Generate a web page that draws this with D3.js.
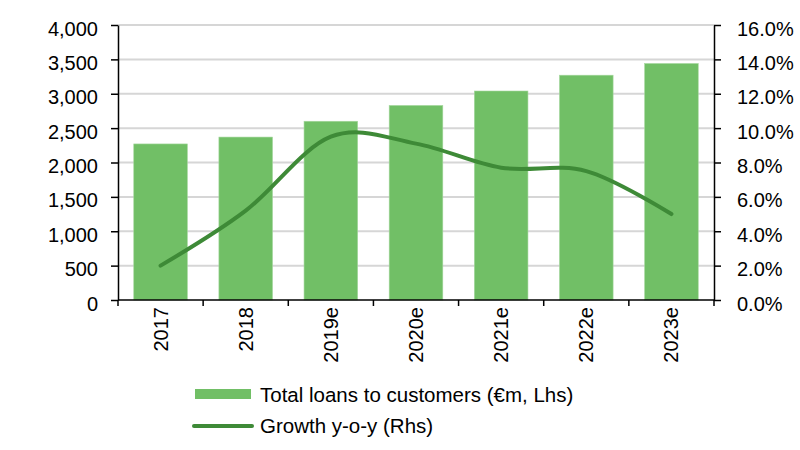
<!DOCTYPE html>
<html>
<head>
<meta charset="utf-8">
<script src="https://cdn.jsdelivr.net/npm/d3@7"></script>
<style>
  body { margin: 0; background: #fff; }
  text { font-family: "Liberation Sans", Arial, sans-serif; fill: #000; }
</style>
</head>
<body>
<div id="chart"></div>
<script>
// data
var years = ["2017", "2018", "2019e", "2020e", "2021e", "2022e", "2023e"];
var loans = [2270, 2370, 2600, 2830, 3040, 3270, 3440];
var growth = [0.020, 0.052, 0.095, 0.091, 0.077, 0.075, 0.050];
var leftTicks = [0, 500, 1000, 1500, 2000, 2500, 3000, 3500, 4000];
var rightTicks = [0, 0.02, 0.04, 0.06, 0.08, 0.10, 0.12, 0.14, 0.16];
var legendLabels = ["Total loans to customers (\u20acm, Lhs)", "Growth y-o-y (Rhs)"];

var width = 800, height = 450;
var margin = { top: 25, right: 86, bottom: 150, left: 118 };
var innerW = width - margin.left - margin.right;
var innerH = height - margin.top - margin.bottom;

var barColor = "#71bf66";
var lineColor = "#3e8a37";

var svg = d3.select("#chart").append("svg")
    .attr("width", width)
    .attr("height", height);

var g = svg.append("g")
    .attr("transform", "translate(" + margin.left + "," + margin.top + ")");

var x = d3.scaleBand()
    .domain(years)
    .range([0, innerW])
    .paddingInner(0.37)
    .paddingOuter(0.185);

var y = d3.scaleLinear().domain([0, 4000]).range([innerH, 0]);
var y2 = d3.scaleLinear().domain([0, 0.16]).range([innerH, 0]);

// gridlines
g.selectAll(".grid")
    .data(leftTicks.filter(function(d) { return d > 0; }))
    .enter().append("line")
    .attr("x1", 0).attr("x2", innerW)
    .attr("y1", function(d) { return y(d); })
    .attr("y2", function(d) { return y(d); })
    .attr("stroke", "#d6d6d6")
    .attr("stroke-width", 2);

// bars
g.selectAll(".bar")
    .data(loans)
    .enter().append("rect")
    .attr("x", function(d, i) { return x(years[i]); })
    .attr("width", x.bandwidth())
    .attr("y", function(d) { return y(d); })
    .attr("height", function(d) { return innerH - y(d); })
    .attr("fill", barColor)
    .attr("stroke", "#a6d89f")
    .attr("stroke-width", 0.6);

// growth line
var line = d3.line()
    .x(function(d, i) { return x(years[i]) + x.bandwidth() / 2; })
    .y(function(d) { return y2(d); })
    .curve(d3.curveCardinal.tension(0));

g.append("path")
    .datum(growth)
    .attr("d", line)
    .attr("fill", "none")
    .attr("stroke", lineColor)
    .attr("stroke-width", 4)
    .attr("stroke-linecap", "round");

// left axis
var leftAxis = g.append("g")
    .call(d3.axisLeft(y).tickValues(leftTicks).tickFormat(d3.format(","))
        .tickSize(7).tickSizeOuter(0).tickPadding(13));

// right axis
var rightAxis = g.append("g")
    .attr("transform", "translate(" + innerW + ",0)")
    .call(d3.axisRight(y2).tickValues(rightTicks).tickFormat(d3.format(".1%"))
        .tickSize(7).tickSizeOuter(0).tickPadding(16));

[leftAxis, rightAxis].forEach(function(a) {
  a.selectAll("path, line").attr("stroke", "#000").attr("stroke-width", 1.5);
  a.selectAll("text").style("font-size", "20px").attr("dy", "0.5em");
});

// x axis: baseline, ticks between categories, rotated labels
var xAxis = g.append("g").attr("transform", "translate(0," + innerH + ")");
xAxis.append("line")
    .attr("x1", 0).attr("x2", innerW)
    .attr("stroke", "#000").attr("stroke-width", 1.5);

var step = x.step();
xAxis.selectAll(".xtick")
    .data(d3.range(years.length + 1))
    .enter().append("line")
    .attr("x1", function(i) { return x(years[0]) - x.paddingOuter() * step + i * step; })
    .attr("x2", function(i) { return x(years[0]) - x.paddingOuter() * step + i * step; })
    .attr("y1", 0).attr("y2", 6)
    .attr("stroke", "#000").attr("stroke-width", 1.5);

xAxis.selectAll(".xlabel")
    .data(years)
    .enter().append("text")
    .attr("transform", function(d) {
      return "translate(" + (x(d) + x.bandwidth() / 2) + ",7) rotate(-90)";
    })
    .attr("text-anchor", "end")
    .attr("dy", "0.35em")
    .style("font-size", "20px")
    .text(function(d) { return d; });

// legend
var legend = svg.append("g");
legend.append("rect")
    .attr("x", 195).attr("y", 389)
    .attr("width", 56).attr("height", 10)
    .attr("fill", barColor);
legend.append("line")
    .attr("x1", 194).attr("x2", 252)
    .attr("y1", 426).attr("y2", 426)
    .attr("stroke", lineColor)
    .attr("stroke-width", 4)
    .attr("stroke-linecap", "round");
legend.selectAll(".ltext")
    .data(legendLabels)
    .enter().append("text")
    .attr("x", 260)
    .attr("y", function(d, i) { return 402 + i * 31; })
    .style("font-size", "20.5px")
    .text(function(d) { return d; });
</script>
</body>
</html>
